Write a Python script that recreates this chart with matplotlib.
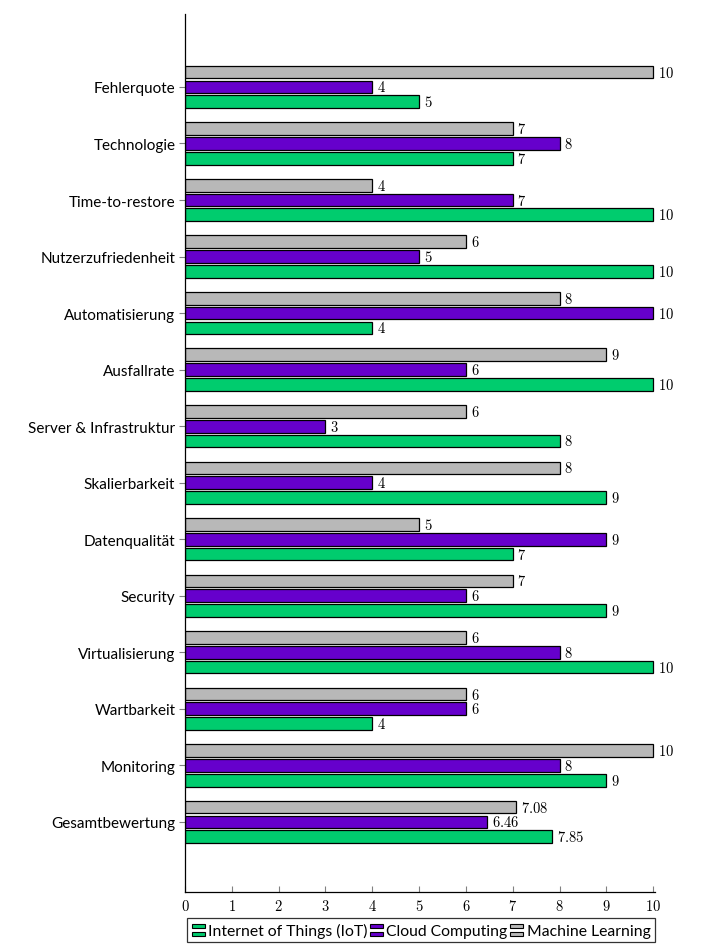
import matplotlib
matplotlib.use("Agg")
import matplotlib.pyplot as plt
from matplotlib.patches import Rectangle
from matplotlib.legend_handler import HandlerBase
import numpy as np

categories = ["Fehlerquote", "Technologie", "Time-to-restore", "Nutzerzufriedenheit",
              "Automatisierung", "Ausfallrate", "Server & Infrastruktur", "Skalierbarkeit",
              "Datenqualität", "Security", "Virtualisierung", "Wartbarkeit", "Monitoring",
              "Gesamtbewertung"]
iot = [5, 7, 10, 10, 4, 10, 8, 9, 7, 9, 10, 4, 9, 7.85]
cloud = [4, 8, 7, 5, 10, 6, 3, 4, 9, 6, 8, 6, 8, 6.46]
ml = [10, 7, 4, 6, 8, 9, 6, 8, 5, 7, 6, 6, 10, 7.08]
series_names = ["Internet of Things (IoT)", "Cloud Computing", "Machine Learning"]
xticks = list(range(0, 11))

colors = ["#00CC6E", "#6600CC", "#B8B8B8"]

plt.rcParams['mathtext.fontset'] = 'cm'
plt.rcParams['font.family'] = ['Lato', 'DejaVu Sans']

fig = plt.figure(figsize=(7.15, 9.53), dpi=100)
ax = fig.add_axes([185/715, 1-893/953, 470/715, (893-15)/953])

n = len(categories)
ypos = np.arange(n)[::-1]  # top category highest
off = 0.262
h = 0.225

def fmt(v):
    return f"${v:g}$"

for vals, dy, c in [(ml, off, colors[2]), (cloud, 0, colors[1]), (iot, -off, colors[0])]:
    ax.barh(ypos + dy, vals, height=h, color=c, edgecolor="black", linewidth=0.9)
    for y, v in zip(ypos + dy, vals):
        ax.text(v + 0.1, y, fmt(v), va="center", ha="left", fontsize=10.5)

ax.set_xlim(0, 10.04)
ax.set_ylim(-1.24, 13 + 1.29)
ax.set_yticks(ypos)
ax.set_yticklabels(categories, fontsize=11)
ax.set_xticks(xticks)
ax.set_xticklabels([f"${t}$" for t in xticks], fontsize=10.5)
ax.tick_params(axis="y", direction="out", length=4, color="#808080", width=0.8, pad=3)
ax.tick_params(axis="x", direction="in", length=4, color="#808080", width=0.8, pad=4)
for s in ["top", "right"]:
    ax.spines[s].set_visible(False)
for s in ["left", "bottom"]:
    ax.spines[s].set_linewidth(0.9)


class DoubleBarHandler(HandlerBase):
    def create_artists(self, legend, orig_handle, xdescent, ydescent, width, height, fontsize, trans):
        fc = orig_handle.get_facecolor()
        w = width
        hh = height * 0.42
        r1 = Rectangle((-xdescent, -ydescent + height - hh), w, hh, facecolor=fc,
                       edgecolor="black", linewidth=0.8, transform=trans)
        r2 = Rectangle((-xdescent, -ydescent - height * 0.15), w, hh, facecolor=fc,
                       edgecolor="black", linewidth=0.8, transform=trans)
        return [r1, r2]

handles = [Rectangle((0, 0), 1, 1, facecolor=c) for c in colors]
leg = fig.legend(handles, series_names, loc="center", bbox_to_anchor=(421/715, 1-931/953),
                 ncol=3, fontsize=11.3, frameon=True, fancybox=False, edgecolor="black",
                 handler_map={Rectangle: DoubleBarHandler()}, handlelength=0.85,
                 handletextpad=0.2, columnspacing=0.15, borderpad=0.3)
leg.get_frame().set_linewidth(0.9)

fig.savefig("out.png", dpi=100)
